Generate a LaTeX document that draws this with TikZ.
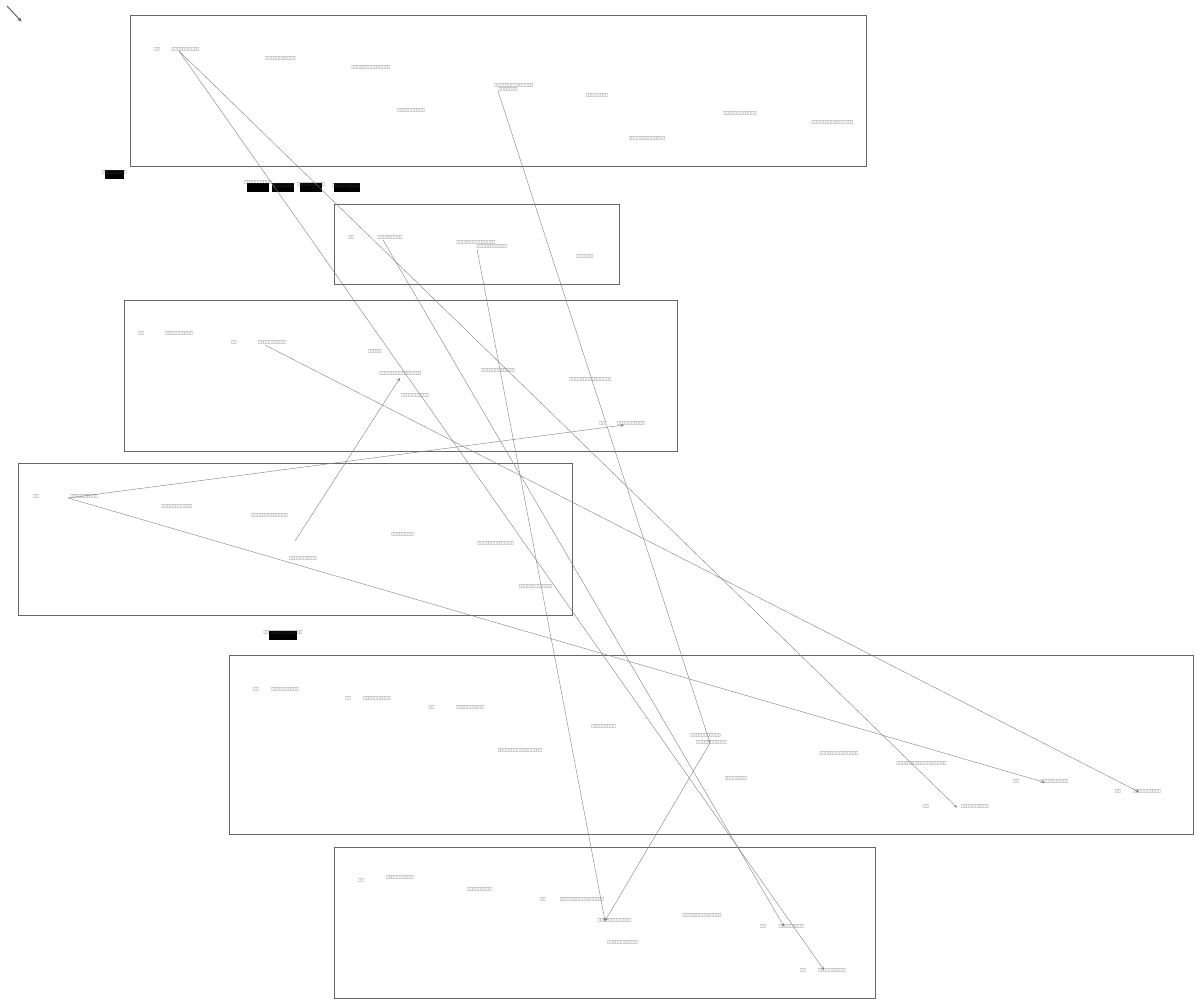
\documentclass[tikz,border=0pt]{standalone}
\usepackage{fontspec}
\newfontfamily\tofufont[FakeStretch=0.66]{DejaVu Sans}
\begin{document}
\begin{tikzpicture}[x=1pt,y=-1pt,
    frame/.style={draw=black!60,line width=0.7pt},
    lbl/.style={font=\tofufont\fontsize{4.45}{5}\selectfont,text=black!70,inner sep=0pt},
    blk/.style={fill=black,inner sep=0pt},
    link/.style={draw=black!50,line width=0.4pt,->,>=stealth}]
        \useasboundingbox[fill=white] (0,0) rectangle (1200,1005);
        \coordinate (c0) at (7,6);
        \coordinate (c1) at (21.5,21.5);
        \draw[black!60,line width=1pt,->,>=stealth] (c0) -- (c1);
        %
        \draw[frame] (130,15) rectangle (866,166);
        \draw[frame] (334,204) rectangle (619,284);
        \draw[frame] (124,300) rectangle (677,451);
        \draw[frame] (18,463) rectangle (572,615);
        \draw[frame] (229,655) rectangle (1193,834);
        \draw[frame] (334,847) rectangle (875,998);
        %
        \node[lbl] (a1) at (157,49) {□□};
        \node[lbl] (a2) at (185.5,49) {□□□□□□□□□□};
        \node[lbl] (a3) at (280.5,58) {□□□□□□□□□□□};
        \node[lbl] (a4) at (371,67) {□□□□□□□□□□□□□□};
        \node[lbl] (a5) at (514,85.5) {□□□□□□□□□□□□□□};
        \node[lbl] (a6) at (508,89) {□□□□□□□};
        \node[lbl] (a7) at (597,95) {□□□□□□□□};
        \node[lbl] (a8) at (411,110.5) {□□□□□□□□□□};
        \node[lbl] (a9) at (740,113.5) {□□□□□□□□□□□□};
        \node[lbl] (a10) at (832.5,122.5) {□□□□□□□□□□□□□□□};
        \node[lbl] (a11) at (647,138) {□□□□□□□□□□□□□};
        %
        \node[blk,minimum width=19pt,minimum height=9pt] (k1) at (114.5,174.5) {};
        \node[lbl] (k1t) at (114.5,172.5) {□□□□□□□□□};
        \node[blk,minimum width=22pt,minimum height=9pt] (k2) at (258,187) {};
        \node[lbl] (k2t) at (258,182.5) {□□□□□□□□□□};
        \node[blk,minimum width=22pt,minimum height=9pt] (k3) at (283,187) {};
        \node[lbl] (k3t) at (283,185) {□□□□□□□□};
        \node[blk,minimum width=22pt,minimum height=9pt] (k4) at (311,187) {};
        \node[lbl] (k4t) at (311,184.5) {□□□□□□□□□□};
        \node[blk,minimum width=26pt,minimum height=9pt] (k5) at (346.5,187) {};
        \node[lbl] (k5t) at (346,185) {□□□□□□□□□□};
        %
        \node[lbl] (b1) at (351,237) {□□};
        \node[lbl] (b2) at (390,237) {□□□□□□□□□};
        \node[lbl] (b3) at (476,242) {□□□□□□□□□□□□□□};
        \node[lbl] (b4) at (492,246.5) {□□□□□□□□□□□};
        \node[lbl] (b5) at (585,256) {□□□□□□};
        %
        \node[lbl] (c1) at (141,333) {□□};
        \node[lbl] (c2) at (179,333) {□□□□□□□□□□};
        \node[lbl] (c3) at (234,342) {□□};
        \node[lbl] (c4) at (272,342) {□□□□□□□□□□};
        \node[lbl] (c5) at (375,351.5) {□□□□□};
        \node[lbl] (c6) at (400.5,373.5) {□□□□□□□□□□□□□□□};
        \node[lbl] (c7) at (498,370) {□□□□□□□□□□□□};
        \node[lbl] (c8) at (415,395) {□□□□□□□□□□};
        \node[lbl] (c9) at (590.5,379.5) {□□□□□□□□□□□□□□□};
        \node[lbl] (c10) at (602,423) {□□};
        \node[lbl] (c11) at (631,423) {□□□□□□□□□□};
        %
        \node[lbl] (d1) at (36,496.5) {□□};
        \node[lbl] (d2) at (84,496.5) {□□□□□□□□□□};
        \node[lbl] (d3) at (177,506) {□□□□□□□□□□□};
        \node[lbl] (d4) at (269.5,515.5) {□□□□□□□□□□□□□};
        \node[lbl] (d5) at (402.5,534) {□□□□□□□□};
        \node[lbl] (d6) at (495.5,543) {□□□□□□□□□□□□□};
        \node[lbl] (d7) at (303,558.5) {□□□□□□□□□□};
        \node[lbl] (d8) at (535.5,586.5) {□□□□□□□□□□□□};
        %
        \node[blk,minimum width=28pt,minimum height=9pt] (k6) at (283,635.5) {};
        \node[lbl] (k6t) at (283,632.5) {□□□□□□□□□□□□□□};
        %
        \node[lbl] (e1) at (256,689) {□□};
        \node[lbl] (e2) at (285,689) {□□□□□□□□□□};
        \node[lbl] (e3) at (348,698) {□□};
        \node[lbl] (e4) at (377,698) {□□□□□□□□□□};
        \node[lbl] (e5) at (431.5,707.5) {□□};
        \node[lbl] (e6) at (470,707.5) {□□□□□□□□□□};
        \node[lbl] (e7) at (603.5,726) {□□□□□□□□□};
        \node[lbl] (e8) at (705.5,735) {□□□□□□□□□□□};
        \node[lbl] (e9) at (711.5,742.5) {□□□□□□□□□□□};
        \node[lbl] (e10) at (520,750.5) {□□□□□□□□□□□□□□□□};
        \node[lbl] (e11) at (736,778.5) {□□□□□□□□};
        \node[lbl] (e12) at (839,753.5) {□□□□□□□□□□□□□□};
        \node[lbl] (e13) at (921.5,763) {□□□□□□□□□□□□□□□□□□};
        \node[lbl] (e14) at (1016,781.5) {□□};
        \node[lbl] (e15) at (1054.5,781.5) {□□□□□□□□□□};
        \node[lbl] (e16) at (1118,791) {□□};
        \node[lbl] (e17) at (1147,791) {□□□□□□□□□□};
        \node[lbl] (e18) at (926,806.5) {□□};
        \node[lbl] (e19) at (975,806.5) {□□□□□□□□□□};
        %
        \node[lbl] (f1) at (361,880.5) {□□};
        \node[lbl] (f2) at (400,877.5) {□□□□□□□□□□};
        \node[lbl] (f3) at (479.5,889.5) {□□□□□□□□□};
        \node[lbl] (f4) at (543,899) {□□};
        \node[lbl] (f5) at (582,899) {□□□□□□□□□□□□□□□□};
        \node[lbl] (f6) at (614.5,920.5) {□□□□□□□□□□□□};
        \node[lbl] (f7) at (702,915) {□□□□□□□□□□□□□□};
        \node[lbl] (f8) at (622.5,942.5) {□□□□□□□□□□□};
        \node[lbl] (f9) at (763,926.5) {□□};
        \node[lbl] (f10) at (791.5,926.5) {□□□□□□□□□};
        \node[lbl] (f11) at (803,970) {□□};
        \node[lbl] (f12) at (832,970) {□□□□□□□□□□};
        %
        \coordinate (pa) at (179,51);
        \coordinate (pb) at (498,91);
        \coordinate (pc) at (383,240);
        \coordinate (pd) at (477,249);
        \coordinate (pe) at (265,345);
        \coordinate (pf) at (295,541);
        \coordinate (pg) at (68,498);
        \coordinate (q1) at (824,970);
        \coordinate (q2) at (957,807.5);
        \coordinate (q3) at (710,743);
        \coordinate (q4) at (784,926.5);
        \coordinate (q5) at (605,921);
        \coordinate (q6) at (1139,792);
        \coordinate (q7) at (400,378);
        \coordinate (q8) at (624,425);
        \coordinate (q9) at (1045,782.5);
        %
        \draw[link] (pa) -- (q1);
        \draw[link] (pa) -- (q2);
        \draw[link] (pb) -- (q3);
        \draw[link] (pc) -- (q4);
        \draw[link] (pd) -- (q5);
        \draw[link] (pe) -- (q6);
        \draw[link] (pf) -- (q7);
        \draw[link] (pg) -- (q8);
        \draw[link] (pg) -- (q9);
        \draw[link] (q3) -- (q5);
    \end{tikzpicture}
\end{document}
